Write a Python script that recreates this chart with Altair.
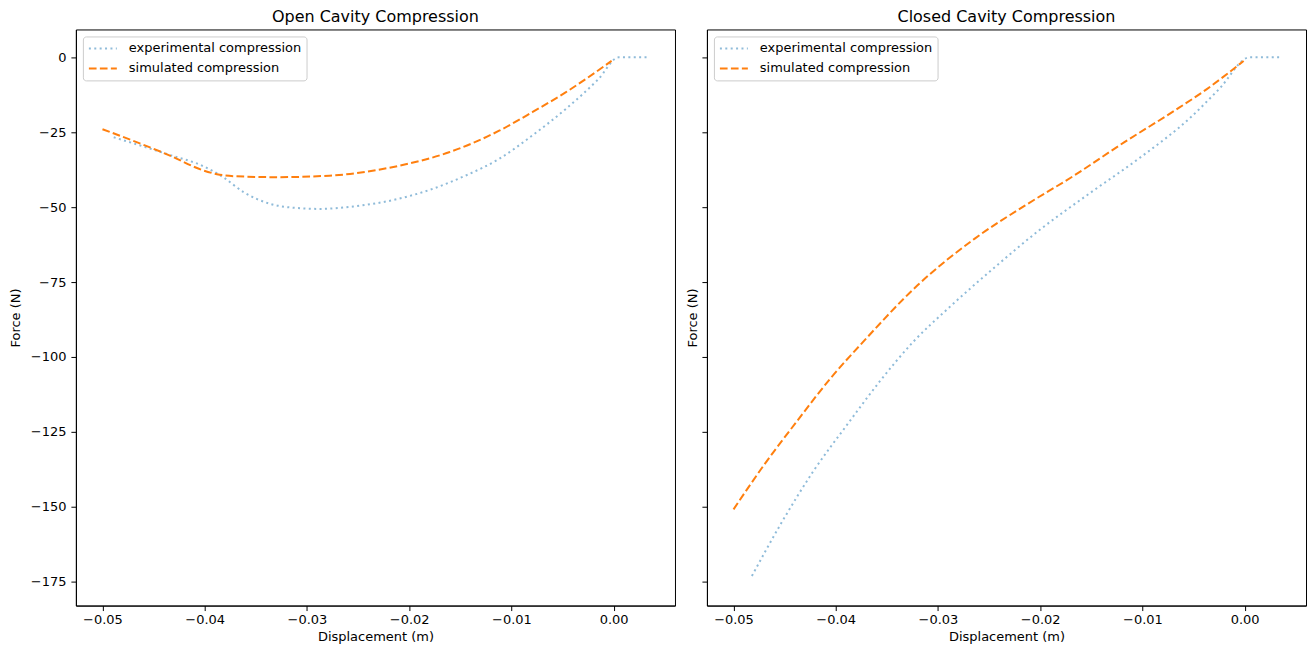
import altair as alt
import pandas as pd

FONT = "DejaVu Sans"
EXP = "experimental compression"
SIM = "simulated compression"

# ---- Open cavity ----
open_exp_x = [-0.0489, -0.0434, -0.0401, -0.0382, -0.0362, -0.0336, -0.0310, -0.0288,
              -0.0255, -0.0210, -0.0177, -0.0145, -0.0112, -0.0080, -0.0047, -0.0015,
              0.0005, 0.0034]
open_exp_f = [-26.7, -32.6, -36.4, -40.0, -45.0, -48.9, -50.3, -50.6,
              -49.8, -47.2, -43.9, -39.5, -33.9, -26.2, -17.3, -7.3,
              0.0, 0.0]
open_sim_x = [-0.0500, -0.0466, -0.0434, -0.0401, -0.0388, -0.0370, -0.0330, -0.0278,
              -0.0210, -0.0161, -0.0112, -0.0080, -0.0047, -0.0002]
open_sim_f = [-24.0, -28.4, -32.8, -37.8, -39.0, -39.7, -40.0, -39.5,
              -36.2, -31.7, -24.5, -18.4, -11.7, -1.2]

# ---- Closed cavity ----
closed_exp_x = [-0.0482, -0.0454, -0.0422, -0.0389, -0.0357, -0.0324, -0.0290, -0.0248,
                -0.0199, -0.0150, -0.0102, -0.0053, -0.0025, 0.0005, 0.0035]
closed_exp_f = [-173.1, -155.9, -138.2, -122.7, -108.2, -94.9, -83.8, -71.1,
                -57.2, -45.0, -33.4, -20.1, -10.6, 0.0, 0.0]
closed_sim_x = [-0.0500, -0.0470, -0.0438, -0.0405, -0.0373, -0.0320, -0.0264,
                -0.0215, -0.0167, -0.0118, -0.0069, -0.0037, -0.0001]
closed_sim_f = [-150.9, -136.0, -121.5, -107.1, -94.9, -76.1, -60.5,
                -49.5, -39.5, -28.4, -17.9, -10.6, -1.2]

x_ticks = [-0.05, -0.04, -0.03, -0.02, -0.01, 0.0]
y_ticks = [0, -25, -50, -75, -100, -125, -150, -175]

W = 600
H = 577


def panel(title, ex, ef, sx, sf, show_labels):
    df = pd.DataFrame({
        "x": ex + sx,
        "F": ef + sf,
        "series": [EXP] * len(ex) + [SIM] * len(sx),
    })
    legend = alt.Legend(
        title=None, orient="top-left", offset=7,
        strokeColor="#cccccc", fillColor="white", padding=5, cornerRadius=3,
        symbolType="stroke", symbolSize=784, symbolStrokeWidth=2,
        labelFont=FONT, labelFontSize=13, labelColor="black", labelLimit=400,
        clipHeight=14, rowPadding=6, labelOffset=11,
    )
    y_axis = alt.Axis(values=y_ticks, title="Force (N)", labels=show_labels,
                      labelPadding=5, titlePadding=8 if show_labels else 2)
    return alt.Chart(df, title=alt.Title(title, font=FONT, fontSize=16, fontWeight="normal",
                                         color="black", offset=4)).mark_line(
        strokeWidth=2, interpolate="monotone"
    ).encode(
        x=alt.X("x:Q", scale=alt.Scale(domain=[-0.0526, 0.0060], nice=False, zero=False),
                axis=alt.Axis(values=x_ticks, format=".2f", title="Displacement (m)",
                              labelPadding=3, titlePadding=4)),
        y=alt.Y("F:Q", scale=alt.Scale(domain=[-183, 9.3], nice=False, zero=False),
                axis=y_axis),
        color=alt.Color("series:N",
                        scale=alt.Scale(domain=[EXP, SIM], range=["#8fbbd9", "#ff7f0e"]),
                        legend=legend),
        strokeDash=alt.StrokeDash("series:N",
                                  scale=alt.Scale(domain=[EXP, SIM], range=[[2, 3.4], [7.7, 3.3]]),
                                  legend=legend),
    ).properties(width=W, height=H)


left = panel("Open Cavity Compression", open_exp_x, open_exp_f, open_sim_x, open_sim_f, True)
right = panel("Closed Cavity Compression", closed_exp_x, closed_exp_f, closed_sim_x, closed_sim_f, False)

chart = alt.hconcat(left, right, spacing=10).resolve_scale(
    color="independent", strokeDash="independent"
).properties(
    padding={"left": 0, "top": 0, "right": 0, "bottom": 0}, background="white"
).configure_axis(
    labelFont=FONT, titleFont=FONT, labelFontSize=13, titleFontSize=13,
    labelColor="black", titleColor="black", tickColor="black", domainColor="black",
    titleFontWeight="normal", grid=False, tickSize=5,
).configure_view(stroke="black", strokeWidth=1)

chart.save("out.html", embed_options={"renderer": "svg", "actions": False})
